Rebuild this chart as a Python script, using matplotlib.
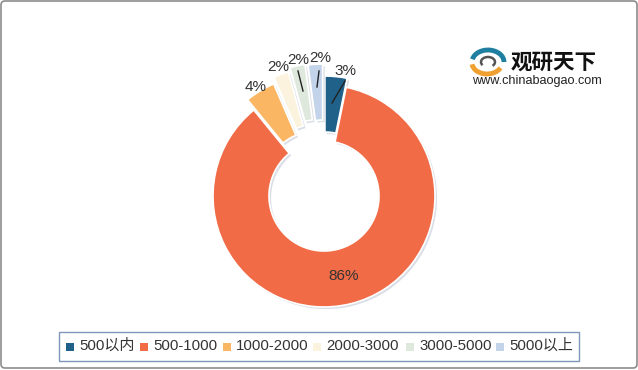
import matplotlib
matplotlib.use('Agg')
import matplotlib.pyplot as plt
import matplotlib.patheffects as pe
from matplotlib.patches import Rectangle, Arc, FancyBboxPatch

plt.rcParams['font.family'] = ['Liberation Sans', 'Noto Sans CJK SC', 'DejaVu Sans']

# 数据
categories = ['500以内', '500-1000', '1000-2000', '2000-3000', '3000-5000', '5000以上']
values = [3.2, 85.9, 4.4, 2.2, 2.2, 2.1]
labels = ['3%', '86%', '4%', '2%', '2%', '2%']
colors = ['#1F6189', '#F26B47', '#FBB664', '#FBF3DE', '#DFE8DC', '#C3D3EA']

W, H = 638, 370
fig = plt.figure(figsize=(W / 100, H / 100), dpi=100)

# 背景外框
bg = fig.add_axes([0, 0, 1, 1])
bg.set_xlim(0, W)
bg.set_ylim(H, 0)
bg.axis('off')
bg.add_patch(FancyBboxPatch((1, 1), W - 2, H - 3, boxstyle='round,pad=0,rounding_size=4',
                            fc='white', ec='#8c8c8c', lw=1.2))

# 饼图,explode单位是像素
pie_ax = fig.add_axes([0, 0, 1, 1])
pie_ax.patch.set_alpha(0)
cx, cy = 324, H - 196
explode = [9, 0, 12, 18, 22, 21]
wedges, _ = pie_ax.pie(values, colors=colors, startangle=90, counterclock=False,
                       center=(cx, cy), radius=111, explode=explode, frame=True,
                       wedgeprops=dict(width=56, edgecolor='white', linewidth=1.2))
pie_ax.set_xlim(0, W)
pie_ax.set_ylim(0, H)
pie_ax.set_aspect('auto')
pie_ax.axis('off')
for w in wedges:
    w.set_path_effects([pe.SimplePatchShadow(offset=(1.5, -1.5), shadow_rgbFace='#6f7f9a', alpha=0.25),
                        pe.Normal()])

# 标签、引线、图例、logo都放在最上层
ax = fig.add_axes([0, 0, 1, 1])
ax.patch.set_alpha(0)
ax.set_xlim(0, W)
ax.set_ylim(H, 0)
ax.axis('off')

label_pos = [(345, 71), (344, 276), (256, 87), (278, 67), (298, 60), (320, 58)]
for t, (x, y) in zip(labels, label_pos):
    ax.text(x, y, t, fontsize=11, color='#333333', ha='center', va='center')
leaders = [((298, 71), (303, 91)), ((319, 71), (317, 87)), ((345, 81), (332, 103))]
for a, b in leaders:
    ax.plot([a[0], b[0]], [a[1], b[1]], color='#222222', lw=1)

# 图例
ax.add_patch(Rectangle((59, 332), 520, 29, fc='white', ec='#7F97BC', lw=1))
leg_x = [66, 140, 223, 313, 406, 496]
for x, c, name in zip(leg_x, colors, categories):
    ax.add_patch(Rectangle((x, 343), 8, 8, fc=c, ec='none'))
    ax.text(x + 13, 346, name, fontsize=10.8, color='#333333', va='center', ha='left')

# 水印logo
ax.text(511, 62, '观研天下', fontsize=15.5, fontweight='bold', color='#111111',
        va='center', ha='left', family=['Noto Sans CJK SC'])
ax.text(472, 81, 'www.chinabaogao.com', fontsize=9.1, color='#222222', va='center', ha='left')
lx, ly = 488, 62
ax.add_patch(Arc((lx, ly), 32, 24, theta1=190, theta2=360, lw=3.5, color='#1F7FA0'))
ax.add_patch(Arc((lx - 1, ly + 1), 30, 22, theta1=20, theta2=175, lw=3.5, color='#F0A030'))
ax.add_patch(Arc((lx, ly), 14, 10, theta1=150, theta2=400, lw=1.8, color='#555555'))

fig.savefig('out.png', dpi=100)
